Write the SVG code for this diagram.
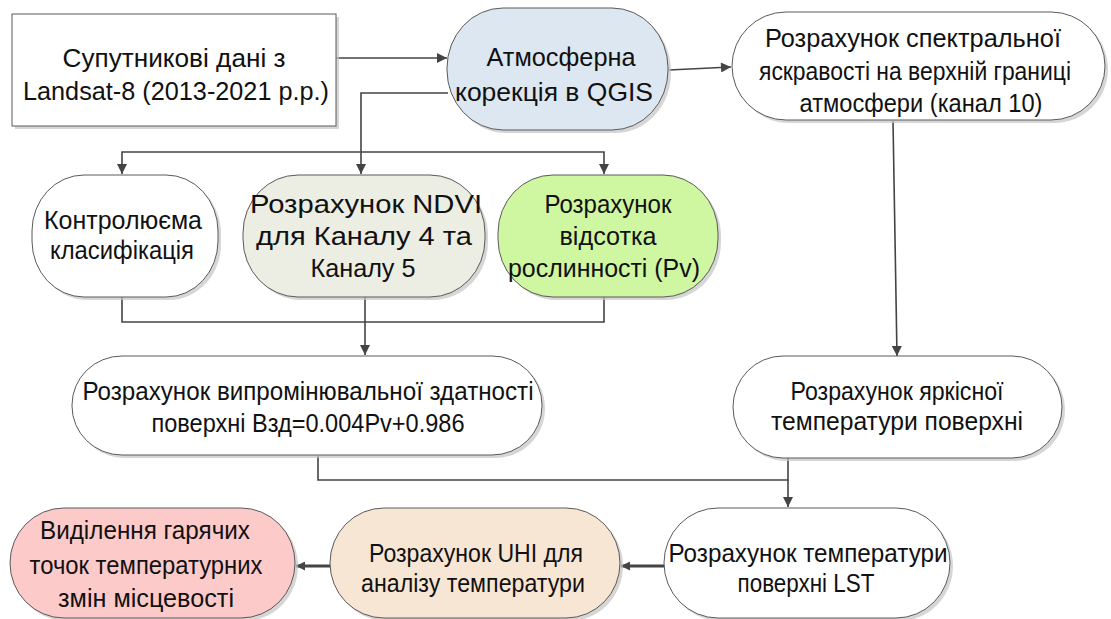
<svg xmlns="http://www.w3.org/2000/svg" width="1111" height="619" viewBox="0 0 1111 619">
  <style>
    .bg { fill: #ffffff; }
    .shape { stroke: #5a5a5a; stroke-width: 1; }
    .shadow { fill: #c4c4c4; opacity: 0.7; }
    .lbl { font-family: "Liberation Sans", Arial, sans-serif; font-size: 25px; fill: #111111; text-anchor: middle; }
    .wire { fill: none; stroke: #444444; stroke-width: 1.6; }
    .wire-heavy { fill: none; stroke: #444444; stroke-width: 3; }
    .w { fill: #ffffff; }
    .blue { fill: #dde7f1; }
    .olive { fill: #eceee3; }
    .lime { fill: #cff6a0; }
    .peach { fill: #f8e6d5; }
    .pink { fill: #fdcaca; }
  </style>
  <defs>
    <marker id="arrow" viewBox="0 0 10 10" refX="10" refY="5" markerWidth="9" markerHeight="9" markerUnits="userSpaceOnUse" orient="auto">
      <path d="M0,0 L10,5 L0,10 Z" fill="#444444"/>
    </marker>
    <marker id="arrowSm" viewBox="0 0 10 10" refX="10" refY="5" markerWidth="11" markerHeight="10" markerUnits="userSpaceOnUse" orient="auto">
      <path d="M0,0 L10,5 L0,10 Z" fill="#444444"/>
    </marker>
  </defs>

  <rect class="bg" x="0" y="0" width="1111" height="619"/>

  <!-- connectors -->
  <g id="connectors">
    <path class="wire" d="M336,58 H447" marker-end="url(#arrowSm)"/>
    <path class="wire" d="M669,70 L731,67" marker-end="url(#arrowSm)"/>
    <path class="wire" d="M448,93 H361 V174" marker-end="url(#arrowSm)"/>
    <path class="wire" d="M361,152 H122 V174" marker-end="url(#arrowSm)"/>
    <path class="wire" d="M361,152 H604 V174" marker-end="url(#arrowSm)"/>
    <path class="wire" d="M122,297 V322 H604 V297"/>
    <path class="wire" d="M365,297 V355" marker-end="url(#arrowSm)"/>
    <path class="wire" d="M893,121 L897,356" marker-end="url(#arrowSm)"/>
    <path class="wire" d="M318,456 V480 H788 V458"/>
    <path class="wire" d="M788,480 V507" marker-end="url(#arrowSm)"/>
    <path class="wire-heavy" d="M664,566 H621" marker-end="url(#arrow)"/>
    <path class="wire-heavy" d="M330,566 H296" marker-end="url(#arrow)"/>
  </g>

  <!-- satellite data source -->
  <g id="n-source">
    <rect class="shadow" x="15" y="17" width="324" height="112"/>
    <rect class="shape w" x="12" y="14" width="324" height="112"/>
    <text class="lbl" x="174" y="67" textLength="223" lengthAdjust="spacingAndGlyphs">Супутникові дані з</text>
    <text class="lbl" x="176" y="100" textLength="306" lengthAdjust="spacingAndGlyphs">Landsat-8 (2013-2021 р.р.)</text>
  </g>

  <!-- atmospheric correction -->
  <g id="n-atm">
    <rect class="shadow" x="450" y="11" width="221" height="122" rx="56" ry="60"/>
    <rect class="shape blue" x="447" y="8" width="221" height="122" rx="56" ry="60"/>
    <text class="lbl" x="561" y="66" textLength="149" lengthAdjust="spacingAndGlyphs">Атмосферна</text>
    <text class="lbl" x="554" y="101" textLength="198" lengthAdjust="spacingAndGlyphs">корекція в QGIS</text>
  </g>

  <!-- top-of-atmosphere radiance -->
  <g id="n-radiance">
    <rect class="shadow" x="735" y="15" width="373" height="108" rx="54" ry="54"/>
    <rect class="shape w" x="732" y="12" width="373" height="108" rx="54" ry="54"/>
    <text class="lbl" x="913" y="47" textLength="296" lengthAdjust="spacingAndGlyphs">Розрахунок спектральної</text>
    <text class="lbl" x="915" y="80" textLength="312" lengthAdjust="spacingAndGlyphs">яскравості на верхній границі</text>
    <text class="lbl" x="921" y="112" textLength="243" lengthAdjust="spacingAndGlyphs">атмосфери (канал 10)</text>
  </g>

  <!-- supervised classification -->
  <g id="n-classif">
    <rect class="shadow" x="35" y="178" width="186" height="122" rx="52" ry="56"/>
    <rect class="shape w" x="32" y="175" width="186" height="122" rx="52" ry="56"/>
    <text class="lbl" x="123" y="229" textLength="158" lengthAdjust="spacingAndGlyphs">Контролюєма</text>
    <text class="lbl" x="122" y="259" textLength="144" lengthAdjust="spacingAndGlyphs">класифікація</text>
  </g>

  <!-- NDVI -->
  <g id="n-ndvi">
    <rect class="shadow" x="246" y="178" width="242" height="122" rx="55" ry="58"/>
    <rect class="shape olive" x="243" y="175" width="242" height="122" rx="55" ry="58"/>
    <text class="lbl" x="366" y="213" textLength="232" lengthAdjust="spacingAndGlyphs">Розрахунок NDVI</text>
    <text class="lbl" x="364" y="245" textLength="216" lengthAdjust="spacingAndGlyphs">для Каналу 4 та</text>
    <text class="lbl" x="363" y="277" textLength="105" lengthAdjust="spacingAndGlyphs">Каналу 5</text>
  </g>

  <!-- vegetation fraction -->
  <g id="n-pv">
    <rect class="shadow" x="501" y="178" width="220" height="122" rx="55" ry="58"/>
    <rect class="shape lime" x="498" y="175" width="220" height="122" rx="55" ry="58"/>
    <text class="lbl" x="608" y="213" textLength="127" lengthAdjust="spacingAndGlyphs">Розрахунок</text>
    <text class="lbl" x="608" y="245" textLength="97" lengthAdjust="spacingAndGlyphs">відсотка</text>
    <text class="lbl" x="604" y="277" textLength="192" lengthAdjust="spacingAndGlyphs">рослинності (Pv)</text>
  </g>

  <!-- emissivity -->
  <g id="n-emis">
    <rect class="shadow" x="75" y="359" width="470" height="99" rx="50" ry="49"/>
    <rect class="shape w" x="72" y="356" width="470" height="99" rx="50" ry="49"/>
    <text class="lbl" x="308" y="400" textLength="451" lengthAdjust="spacingAndGlyphs">Розрахунок випромінювальної здатності</text>
    <text class="lbl" x="308" y="432" textLength="313" lengthAdjust="spacingAndGlyphs">поверхні Взд=0.004Pv+0.986</text>
  </g>

  <!-- brightness temperature -->
  <g id="n-bright">
    <rect class="shadow" x="736" y="359" width="329" height="102" rx="50" ry="51"/>
    <rect class="shape w" x="733" y="356" width="329" height="102" rx="50" ry="51"/>
    <text class="lbl" x="897" y="400" textLength="213" lengthAdjust="spacingAndGlyphs">Розрахунок яркісної</text>
    <text class="lbl" x="897" y="430" textLength="252" lengthAdjust="spacingAndGlyphs">температури поверхні</text>
  </g>

  <!-- land surface temperature -->
  <g id="n-lst">
    <rect class="shadow" x="667" y="511" width="286" height="110" rx="54" ry="55"/>
    <rect class="shape w" x="664" y="508" width="286" height="110" rx="54" ry="55"/>
    <text class="lbl" x="808" y="562" textLength="279" lengthAdjust="spacingAndGlyphs">Розрахунок температури</text>
    <text class="lbl" x="806" y="592" textLength="137" lengthAdjust="spacingAndGlyphs">поверхні LST</text>
  </g>

  <!-- urban heat island -->
  <g id="n-uhi">
    <rect class="shadow" x="333" y="511" width="290" height="110" rx="54" ry="55"/>
    <rect class="shape peach" x="330" y="508" width="290" height="110" rx="54" ry="55"/>
    <text class="lbl" x="476" y="562" textLength="214" lengthAdjust="spacingAndGlyphs">Розрахунок UHI для</text>
    <text class="lbl" x="473" y="592" textLength="224" lengthAdjust="spacingAndGlyphs">аналізу температури</text>
  </g>

  <!-- hot spots -->
  <g id="n-hot">
    <rect class="shadow" x="13" y="511" width="285" height="110" rx="54" ry="55"/>
    <rect class="shape pink" x="10" y="508" width="285" height="110" rx="54" ry="55"/>
    <text class="lbl" x="145" y="539" textLength="210" lengthAdjust="spacingAndGlyphs">Виділення гарячих</text>
    <text class="lbl" x="146" y="574" textLength="233" lengthAdjust="spacingAndGlyphs">точок температурних</text>
    <text class="lbl" x="146" y="607" textLength="176" lengthAdjust="spacingAndGlyphs">змін місцевості</text>
  </g>
</svg>
